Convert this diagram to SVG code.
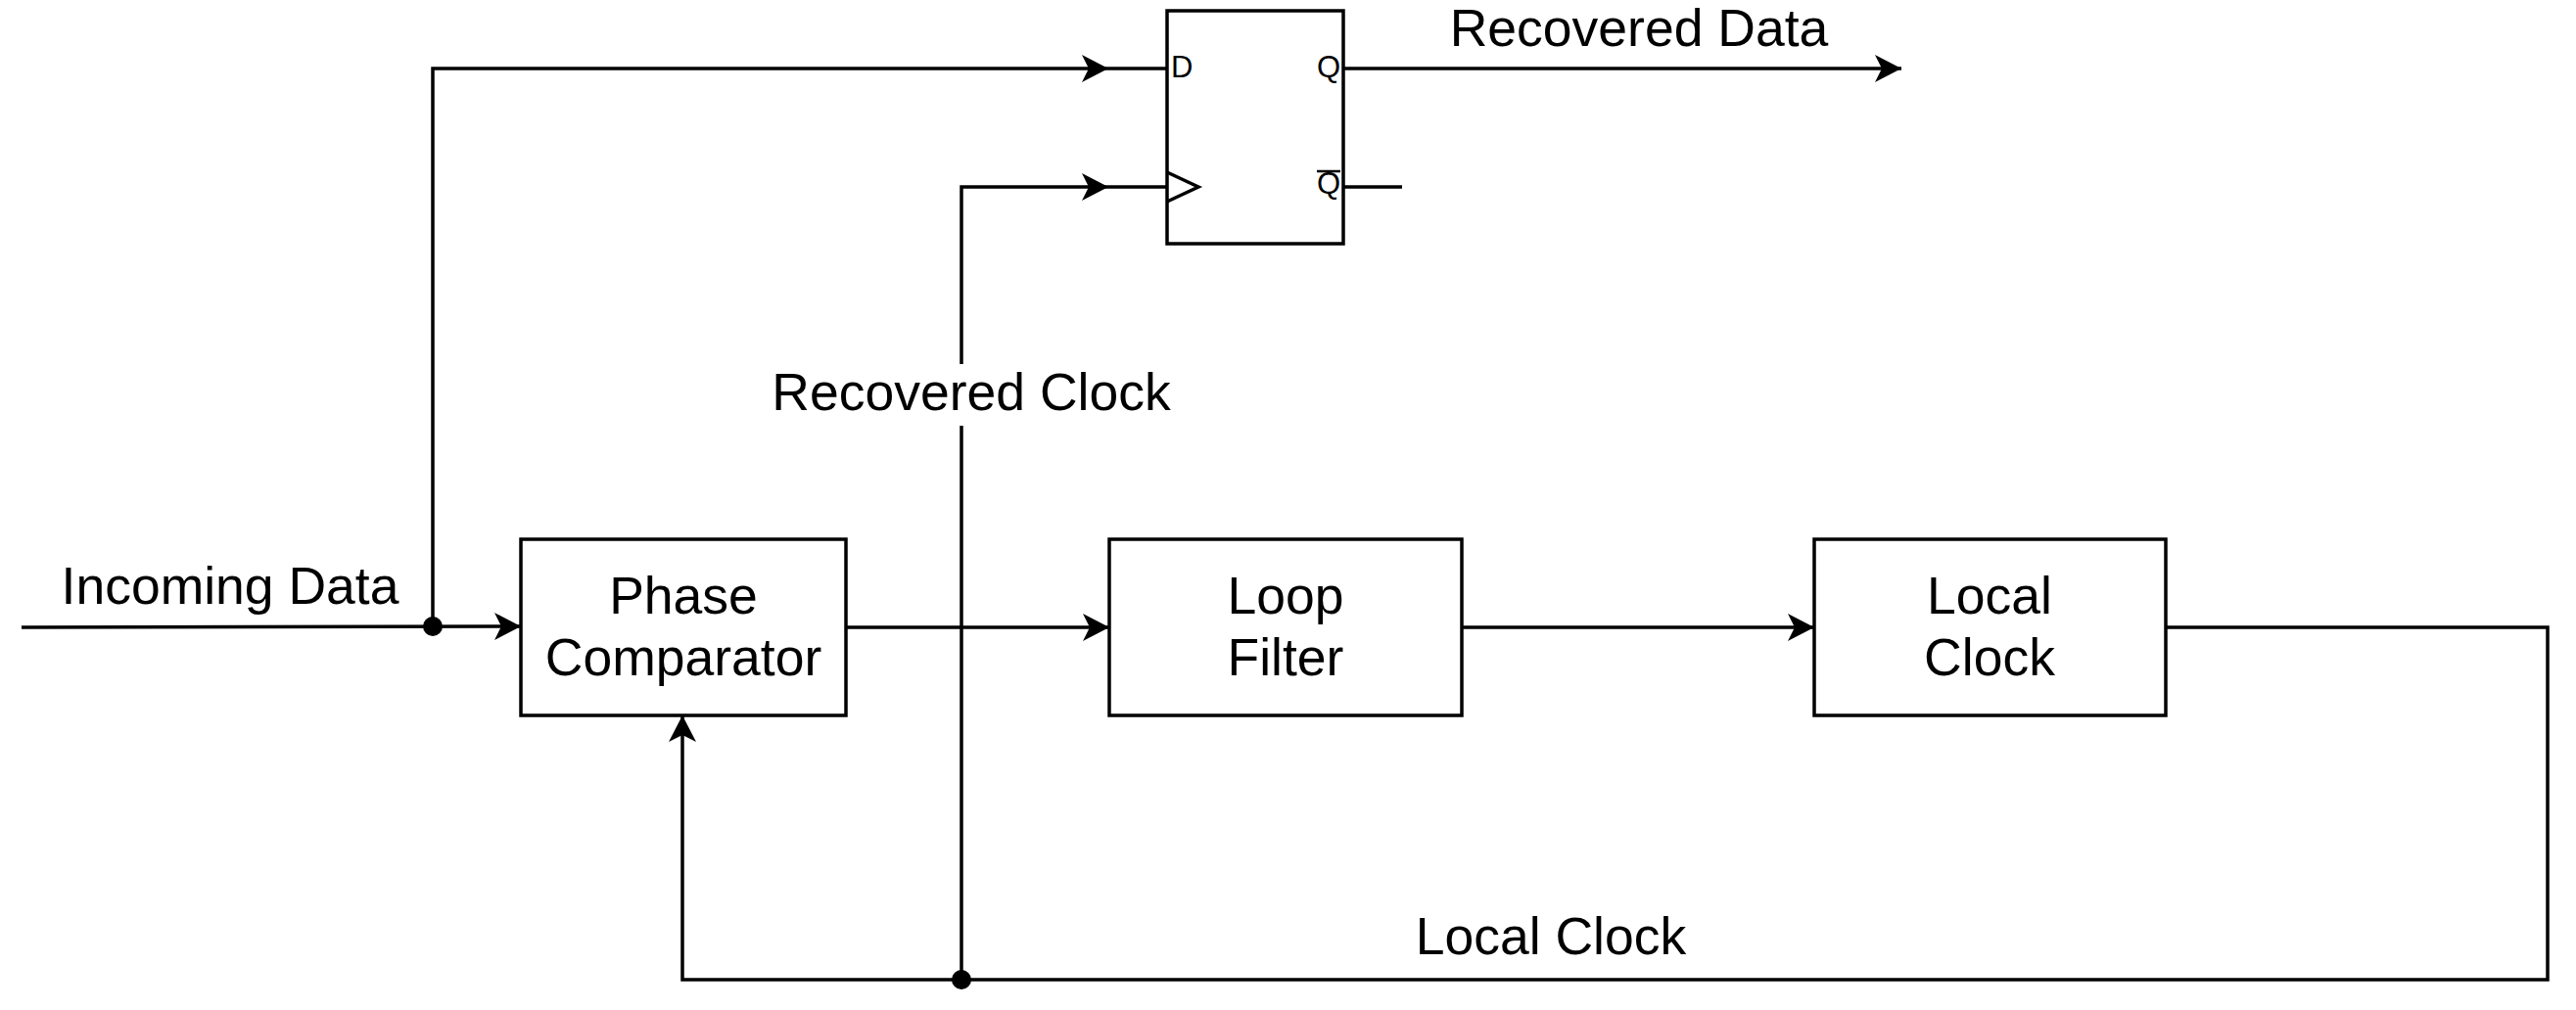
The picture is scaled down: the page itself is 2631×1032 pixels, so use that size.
<svg xmlns="http://www.w3.org/2000/svg" width="2631" height="1032" viewBox="0 0 2631 1032">
<style>
.box{fill:#fff;stroke:#000;stroke-width:3.5}
.ln{fill:none;stroke:#000;stroke-width:3.5}
.t{font-family:"Liberation Sans",Arial,sans-serif;font-size:53.5px;fill:#000;text-anchor:middle}
.p{font-family:"Liberation Sans",Arial,sans-serif;font-size:31px;fill:#000}
</style>
<defs>
<marker id="ar" markerUnits="userSpaceOnUse" markerWidth="30" markerHeight="30" refX="27" refY="14" orient="auto">
<path d="M0,0 L27,14 L0,28 L7,14 Z" fill="#000"/>
</marker>
</defs>
<rect width="2631" height="1032" fill="#fff"/>
<g id="connectors">
<path class="ln" d="M22,641 L532,640" marker-end="url(#ar)"/>
<path class="ln" d="M442,640 L442,70 L1132,70" marker-end="url(#ar)"/>
<path class="ln" d="M864,641 L1133,641" marker-end="url(#ar)"/>
<path class="ln" d="M1493,641 L1853,641" marker-end="url(#ar)"/>
<path class="ln" d="M2212,641 L2602,641 L2602,1001 L697,1001 L697,731" marker-end="url(#ar)"/>
<path class="ln" d="M982,1001 L982,435"/>
<path class="ln" d="M982,372 L982,191 L1132,191" marker-end="url(#ar)"/>
<path class="ln" d="M1372,70 L1942,70" marker-end="url(#ar)"/>
<path class="ln" d="M1132,70 L1192,70 M1132,191 L1192,191 M1372,191 L1432,191"/>
<circle cx="442" cy="640" r="10" fill="#000"/>
<circle cx="982" cy="1001" r="10" fill="#000"/>
<text class="t" x="235" y="617">Incoming Data</text>
<text class="t" x="992" y="419">Recovered Clock</text>
<text class="t" x="1674" y="47">Recovered Data</text>
<text class="t" x="1584" y="975">Local Clock</text>
</g>
<g id="phase-comparator">
<rect class="box" x="532" y="551" width="332" height="180"/>
<text class="t" x="698" y="627">Phase</text>
<text class="t" x="698" y="690">Comparator</text>
</g>
<g id="loop-filter">
<rect class="box" x="1133" y="551" width="360" height="180"/>
<text class="t" x="1313" y="627">Loop</text>
<text class="t" x="1313" y="690">Filter</text>
</g>
<g id="local-clock">
<rect class="box" x="1853" y="551" width="359" height="180"/>
<text class="t" x="2032" y="627">Local</text>
<text class="t" x="2032" y="690">Clock</text>
</g>
<g id="d-flip-flop">
<rect class="box" x="1192" y="11" width="180" height="238"/>
<path class="ln" d="M1192,176 L1224,191 L1192,206"/>
<text class="p" x="1196" y="79">D</text>
<text class="p" x="1369" y="79" text-anchor="end">Q</text>
<text class="p" x="1369" y="198" text-anchor="end">Q</text>
<line x1="1345" y1="175" x2="1369" y2="175" stroke="#000" stroke-width="2.5"/>
</g>
</svg>
